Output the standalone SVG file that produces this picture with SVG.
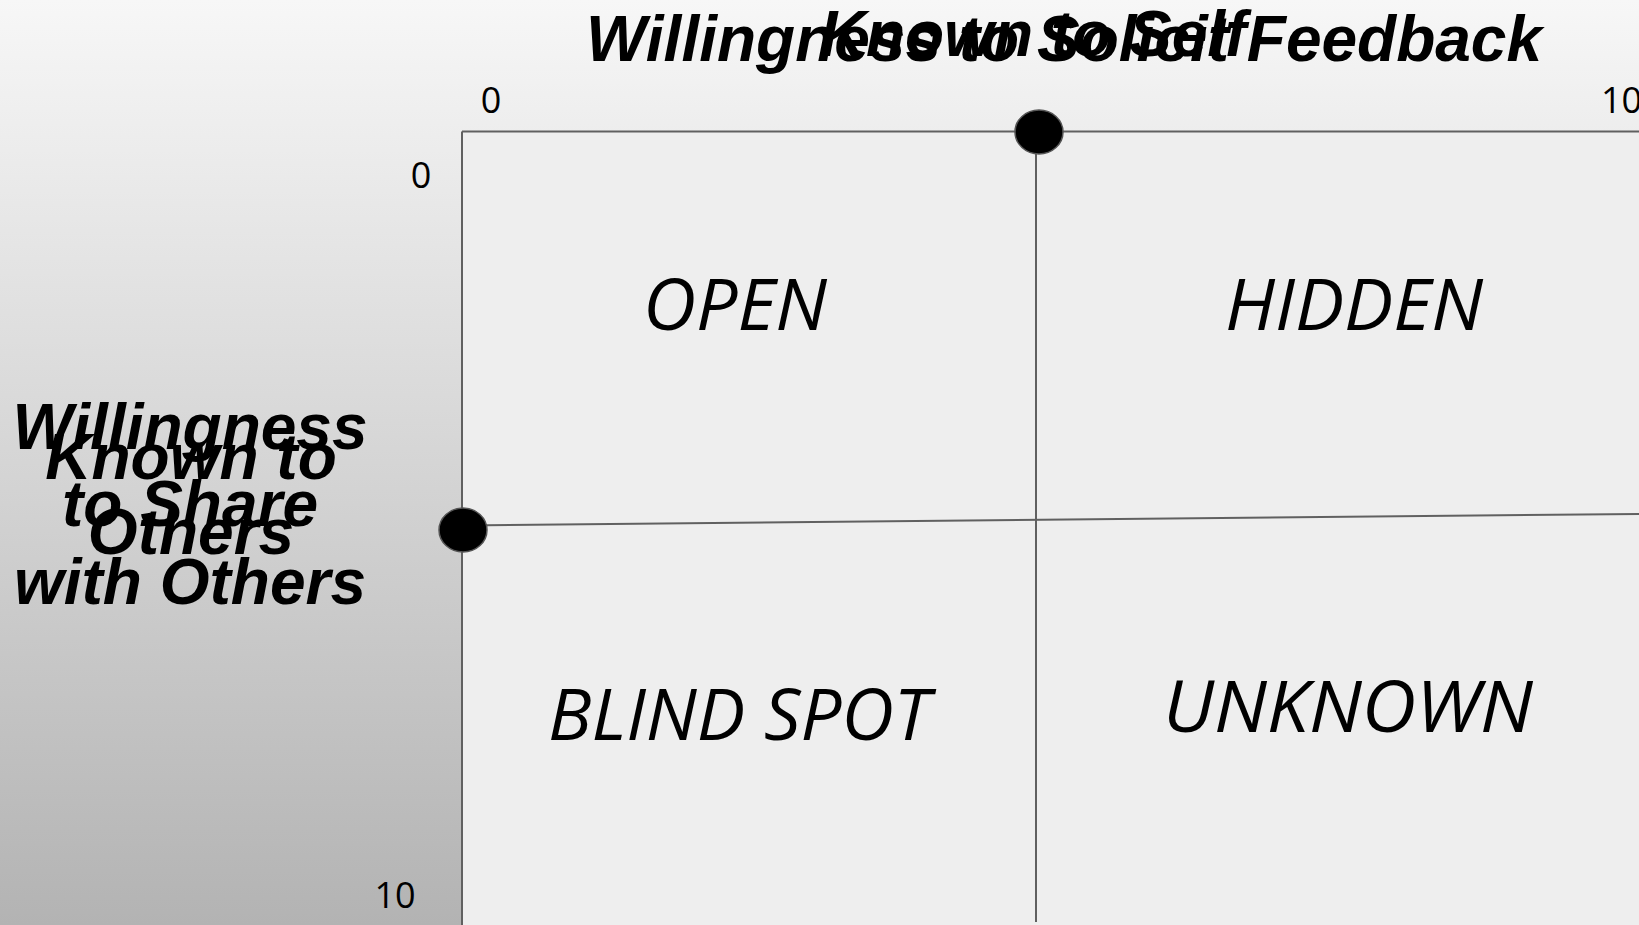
<svg xmlns="http://www.w3.org/2000/svg" width="1639" height="925" viewBox="0 0 1639 925">
<defs>
<linearGradient id="bg" x1="0" y1="0" x2="0" y2="1">
<stop offset="0" stop-color="#f7f7f7"/>
<stop offset="1" stop-color="#b3b3b3"/>
</linearGradient>
</defs>
<style>
.title{font-family:"Liberation Sans",Arial,sans-serif;font-weight:bold;font-style:italic;font-size:64px;fill:#000;text-anchor:middle}
.tick{font-family:"Open Sans","Noto Sans",sans-serif;font-size:36px;fill:#000;text-anchor:middle}
.quad{font-family:"Open Sans","Noto Sans",sans-serif;font-style:italic;font-size:71px;fill:#000;text-anchor:middle}
.axis{stroke:#606060;stroke-width:2;fill:none}
.dot{fill:#000;stroke:#555;stroke-width:1.5}
</style>
<rect x="0" y="0" width="1639" height="925" fill="url(#bg)"/>
<rect id="plot" x="462" y="131.5" width="1177" height="793.5" fill="#eeeeee"/>
<g id="connectors">
<line class="axis" x1="462" y1="131.5" x2="1639" y2="131.5"/>
<line class="axis" x1="462" y1="131.5" x2="462" y2="925"/>
<line class="axis" x1="1036" y1="131.5" x2="1036" y2="922"/>
<line class="axis" x1="462" y1="525.5" x2="1639" y2="514"/>
</g>
<g id="dot-top"><ellipse class="dot" cx="1039" cy="132" rx="24" ry="22"/></g>
<g id="dot-left"><ellipse class="dot" cx="463" cy="530" rx="24" ry="22"/></g>
<g id="ticks">
<text class="tick" x="491" y="113">0</text>
<text class="tick" x="1601" y="113" style="text-anchor:start">10</text>
<text class="tick" x="421" y="188">0</text>
<text class="tick" x="395" y="908">10</text>
</g>
<g id="top-title">
<text class="title" x="1064" y="61">Willingness to Solicit Feedback</text>
<text class="title" x="1033" y="56">Known to Self</text>
</g>
<g id="left-title">
<text class="title" x="190" y="449">Willingness</text>
<text class="title" x="190" y="526">to Share</text>
<text class="title" x="190" y="604">with Others</text>
<text class="title" x="191" y="479">Known to</text>
<text class="title" x="191" y="554">Others</text>
</g>
<g id="open"><text class="quad" x="735" y="330" textLength="184" lengthAdjust="spacingAndGlyphs">OPEN</text></g>
<g id="hidden"><text class="quad" x="1354" y="330" textLength="258" lengthAdjust="spacingAndGlyphs">HIDDEN</text></g>
<g id="blind-spot"><text class="quad" x="739" y="740" textLength="382" lengthAdjust="spacingAndGlyphs">BLIND SPOT</text></g>
<g id="unknown"><text class="quad" x="1348" y="732" textLength="370" lengthAdjust="spacingAndGlyphs">UNKNOWN</text></g>
</svg>
